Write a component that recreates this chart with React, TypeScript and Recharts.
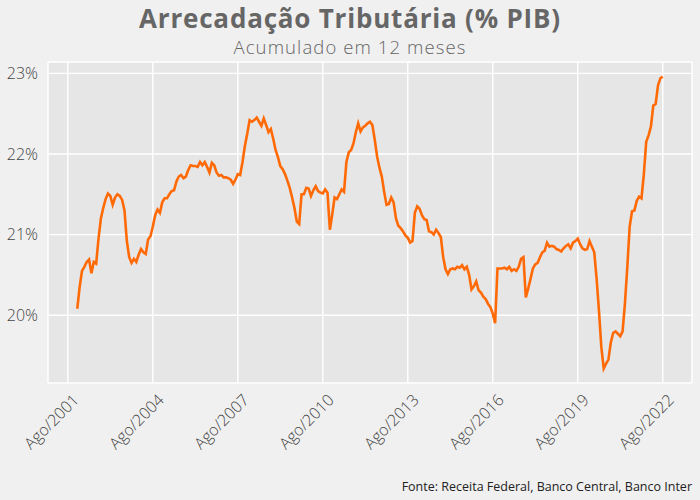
import { LineChart, Line, XAxis, YAxis, CartesianGrid } from 'recharts';

// first point is Dec/2001, monthly through Ago/2022 (% of GDP, 12-month sum)
const startOffset = 4; // months after Ago/2001
const values = [
  20.08, 20.35, 20.55, 20.6, 20.66, 20.69, 20.52, 20.66, 20.64, 20.95, 21.2, 21.33,
  21.44, 21.51, 21.48, 21.37, 21.46, 21.5, 21.48, 21.43, 21.3, 20.92, 20.72, 20.65,
  20.7, 20.66, 20.75, 20.82, 20.78, 20.76, 20.94, 20.98, 21.1, 21.24, 21.31, 21.27,
  21.4, 21.45, 21.45, 21.5, 21.54, 21.55, 21.66, 21.72, 21.74, 21.7, 21.72, 21.8,
  21.86, 21.85, 21.85, 21.84, 21.9, 21.86, 21.9, 21.84, 21.77, 21.89, 21.86, 21.77,
  21.73, 21.74, 21.71, 21.71, 21.7, 21.68, 21.63, 21.68, 21.75, 21.74, 21.9, 22.1,
  22.25, 22.42, 22.4, 22.42, 22.45, 22.4, 22.35, 22.44, 22.36, 22.27, 22.31, 22.19,
  22.05, 21.96, 21.85, 21.81, 21.75, 21.67, 21.58, 21.46, 21.33, 21.16, 21.13, 21.5,
  21.5, 21.58, 21.57, 21.48, 21.55, 21.6, 21.54, 21.52, 21.51, 21.56, 21.52, 21.06,
  21.25, 21.46, 21.44, 21.5, 21.56, 21.53, 21.9, 22.02, 22.05, 22.13, 22.27, 22.38,
  22.28, 22.33, 22.35, 22.38, 22.4, 22.36, 22.18, 21.97, 21.83, 21.72, 21.53, 21.37,
  21.38, 21.46, 21.4, 21.2, 21.11, 21.08, 21.04, 20.99, 20.96, 20.9, 20.92, 21.27,
  21.35, 21.32, 21.24, 21.19, 21.18, 21.04, 21.03, 21.0, 21.06, 21.02, 20.97, 20.72,
  20.57, 20.51, 20.57, 20.58, 20.57, 20.6, 20.59, 20.62, 20.57, 20.6, 20.5, 20.32,
  20.36, 20.42, 20.31, 20.28, 20.23, 20.2, 20.14, 20.1, 20.02, 19.9, 20.58, 20.58,
  20.58, 20.59, 20.57, 20.6, 20.55, 20.57, 20.55, 20.6, 20.7, 20.72, 20.22, 20.33,
  20.45, 20.58, 20.63, 20.65, 20.72, 20.78, 20.8, 20.9, 20.85, 20.86, 20.85, 20.82,
  20.81, 20.79, 20.83, 20.86, 20.88, 20.83, 20.9, 20.92, 20.95, 20.88, 20.83, 20.81,
  20.82, 20.92, 20.85, 20.78, 20.45, 20.05, 19.6, 19.34, 19.4, 19.45, 19.66, 19.78,
  19.8, 19.77, 19.74, 19.8, 20.15, 20.6, 21.1, 21.29, 21.3, 21.42, 21.47, 21.45,
  21.75, 22.15, 22.23, 22.34, 22.6, 22.62, 22.85, 22.94, 22.96,
];
const xTicks = [0, 36, 72, 108, 144, 180, 216, 252];
const yTicks = [20, 21, 22, 23];
const title = 'Arrecadação Tributária (% PIB)';
const subtitle = 'Acumulado em 12 meses';
const caption = 'Fonte: Receita Federal, Banco Central, Banco Inter';

const data = values.map((v, i) => ({ t: i + startOffset, v }));

const tMin = startOffset;
const tMax = startOffset + values.length - 1;
const xPad = (tMax - tMin) * 0.05;
const vMin = Math.min(...values);
const vMax = Math.max(...values);
const yPad = (vMax - vMin) * 0.05;

const tickLabel = (t: number) => `Ago/${2001 + Math.round(t / 12)}`;

const RotTick = ({ x, y, payload }: any) => (
  <text
    x={x + 4}
    y={y + 2}
    dy="0.72em"
    textAnchor="end"
    transform={`rotate(-45, ${x + 4}, ${y + 2})`}
    fill="#444"
    fontSize={16}
    fontFamily="'Open Sans', sans-serif"
    fontWeight={300}
  >
    {tickLabel(payload.value)}
  </text>
);

export default function App() {
  return (
    <div style={{ position: 'absolute', left: 0, top: 0, width: 700, height: 500, background: '#f0f0f0', fontFamily: "'Open Sans', sans-serif" }}>
      <div style={{ position: 'absolute', top: 0, width: 700, textAlign: 'center', fontSize: 26, lineHeight: '36px', letterSpacing: 0.8, fontWeight: 700, color: '#666' }}>
        {title}
      </div>
      <div style={{ position: 'absolute', top: 35, width: 700, textAlign: 'center', fontSize: 18.5, lineHeight: '24px', letterSpacing: 1.1, fontWeight: 300, color: '#666' }}>
        {subtitle}
      </div>
      <LineChart width={700} height={500} data={data} margin={{ top: 62, right: 8, bottom: 0, left: 0 }}>
        <CartesianGrid stroke="#ffffff" strokeWidth={1.4} fill="#e6e6e6" />
        <XAxis
          dataKey="t"
          type="number"
          domain={[tMin - xPad, tMax + xPad]}
          ticks={xTicks}
          axisLine={false}
          tickLine={false}
          tick={<RotTick />}
          interval={0}
          allowDataOverflow
          height={117}
        />
        <YAxis
          type="number"
          domain={[vMin - yPad, vMax + yPad]}
          ticks={yTicks}
          axisLine={false}
          tickLine={false}
          width={48}
          allowDataOverflow
          tickFormatter={(v: number) => `${v}%`}
          tick={{ fill: '#444', fontSize: 16, fontWeight: 300, fontFamily: "'Open Sans', sans-serif" }}
          tickMargin={4}
        />
        <Line
          type="linear"
          dataKey="v"
          stroke="#ff6a06"
          strokeWidth={2.6}
          dot={false}
          isAnimationActive={false}
        />
      </LineChart>
      <div style={{ position: 'absolute', right: 8, top: 478, fontSize: 12.5, color: '#222' }}>
        {caption}
      </div>
    </div>
  );
}
